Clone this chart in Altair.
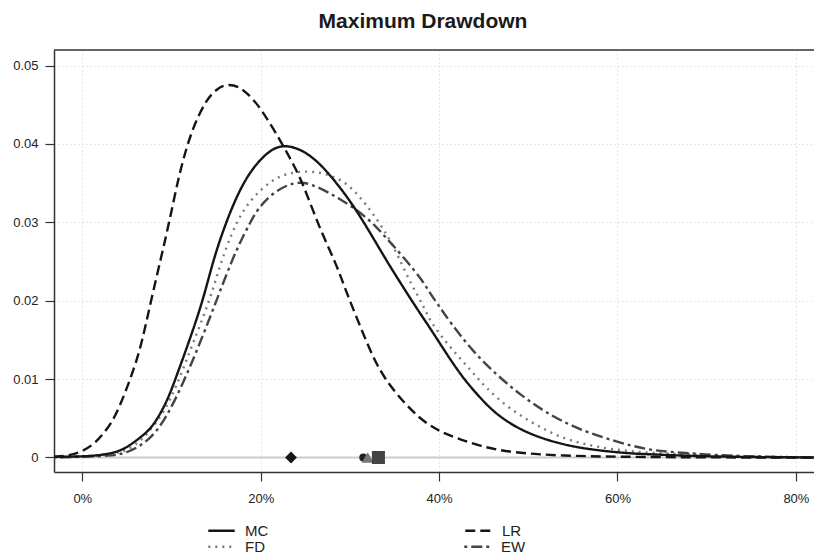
import altair as alt
import pandas as pd

# ---------------- data ----------------
row1_series = ["MC", "LR"]
row1_colors = ["#151515", "#151515"]
row1_dash = [[1, 0], [10, 5]]
row2_series = ["FD", "EW"]
row2_colors = ["#7a7a7a", "#444444"]
row2_dash = [[2, 5], [3, 4, 11, 4]]

mc_x = [-3.2, -1.0, 1.2, 2.5, 3.9, 5.0, 6.1, 7.0, 8.0, 9.5, 10.6, 12.1, 13.6, 14.7, 16.2,
        17.7, 19.2, 21.0, 22.5, 24.4, 26.3, 28.1, 30.0, 31.9, 34.0, 35.6, 37.5, 39.0,
        40.9, 42.7, 44.6, 46.5, 49.4, 53.2, 56.9, 61.4, 64.0, 70.0, 82.0]
mc_y = [0.0001, 0.0001, 0.0002, 0.0004, 0.0007, 0.0013, 0.0022, 0.0030, 0.0041, 0.0071,
        0.0105, 0.0152, 0.0203, 0.0253, 0.0303, 0.0343, 0.0371, 0.0392, 0.0399, 0.0394,
        0.0379, 0.0356, 0.0328, 0.0294, 0.0253, 0.0224, 0.0190, 0.0165, 0.0131, 0.0101,
        0.0076, 0.0054, 0.0033, 0.0018, 0.0010, 0.0005, 0.0004, 0.0001, 0.0]

lr_x = [-3.2, -2.0, -1.0, 0.0, 1.2, 2.2, 3.3, 4.3, 5.35, 6.5, 7.6, 8.9, 9.8, 10.8, 11.7,
        12.6, 13.9, 15.1, 16.4, 17.7, 18.4, 19.6, 21.4, 23.1, 24.6, 26.6, 28.4, 29.6,
        31.1, 32.6, 34.1, 36.0, 37.8, 39.5, 40.9, 44.6, 48.3, 54.0, 60.0, 70.0, 82.0]
lr_y = [0.0001, 0.0002, 0.0004, 0.0008, 0.0016, 0.0028, 0.0044, 0.0068, 0.0099, 0.0137,
        0.0195, 0.0258, 0.0303, 0.0358, 0.0396, 0.0426, 0.0456, 0.0471, 0.0477, 0.0472,
        0.0465, 0.0452, 0.0420, 0.0386, 0.0354, 0.0292, 0.0249, 0.0211, 0.0169, 0.0127,
        0.0097, 0.0071, 0.0050, 0.0037, 0.0029, 0.0014, 0.0006, 0.0002, 0.0001, 0.0, 0.0]

fd_x = [-3.2, 0.0, 2.5, 4.6, 6.0, 7.2, 9.1, 10.6, 12.1, 13.6, 14.7, 15.6, 16.75, 17.8,
        19.2, 21.06, 22.7, 25.2, 27.4, 29.45, 31.1, 32.6, 34.3, 35.4, 36.9, 38.2, 39.0,
        41.2, 43.5, 45.3, 47.9, 50.9, 53.9, 57.3, 60.5, 63.5, 67.8, 72.0, 82.0]
fd_y = [0.0, 0.0001, 0.0003, 0.0007, 0.0016, 0.0029, 0.0056, 0.0092, 0.0137, 0.0180,
        0.0216, 0.0251, 0.0286, 0.0311, 0.0333, 0.0352, 0.0362, 0.0366, 0.0362, 0.0352,
        0.0333, 0.0311, 0.0282, 0.0257, 0.0220, 0.0195, 0.0173, 0.0141, 0.0112, 0.0088,
        0.0062, 0.0041, 0.0024, 0.0014, 0.0009, 0.0006, 0.0004, 0.0002, 0.0]

ew_x = [-3.2, 0.0, 3.0, 5.0, 7.6, 9.5, 11.3, 12.8, 14.3, 15.4, 16.7, 17.7, 18.8, 19.6,
        21.4, 23.85, 25.5, 27.8, 30.0, 32.25, 34.1, 36.2, 38.2, 39.0, 39.9, 41.2, 43.8,
        46.5, 49.1, 52.1, 55.8, 59.9, 63.3, 65.9, 69.6, 75.2, 82.0]
ew_y = [0.0, 0.0001, 0.0002, 0.0005, 0.0022, 0.0052, 0.0095, 0.0135, 0.0178, 0.0211,
        0.0249, 0.0275, 0.0299, 0.0316, 0.0339, 0.0352, 0.0350, 0.0337, 0.0322, 0.0303,
        0.0280, 0.0253, 0.0225, 0.0209, 0.0195, 0.0173, 0.0135, 0.0105, 0.0080, 0.0056,
        0.0035, 0.0020, 0.0010, 0.0007, 0.0004, 0.0001, 0.0]

# markers on the zero line
marker_series = ["LR", "MC", "FD", "EW"]
marker_x = [23.4, 31.5, 32.0, 33.2]
marker_shapes = ["diamond", "circle", "triangle-up", "square"]
marker_colors = ["#151515", "#222222", "#777777", "#444444"]
marker_sizes = [140, 64, 150, 170]

x_ticks = [0, 0.2, 0.4, 0.6, 0.8]
y_ticks = [0, 0.01, 0.02, 0.03, 0.04, 0.05]

# ---------------- tables ----------------
rows = []
for name, xs, ys in [("MC", mc_x, mc_y), ("LR", lr_x, lr_y), ("FD", fd_x, fd_y), ("EW", ew_x, ew_y)]:
    for xv, yv in zip(xs, ys):
        rows.append({"series": name, "x": xv / 100.0, "y": yv})
df = pd.DataFrame(rows)

df_m = pd.DataFrame({"series": marker_series, "x": [v / 100.0 for v in marker_x], "y": [0.0] * 4})
df_zero = pd.DataFrame({"y": [0.0]})

W, H = 760, 422
FONT = "Liberation Sans"

x_scale = alt.Scale(domain=[-0.0317, 0.8203], nice=False, zero=False)
y_scale = alt.Scale(domain=[-0.00185, 0.05198], nice=False, zero=False)

x_axis = alt.Axis(values=x_ticks, format=".0%", title=None, grid=True, gridDash=[1, 3],
                  gridColor="#cfcfcf", gridWidth=1, domainColor="#333333", domainWidth=1.5,
                  tickColor="#333333", tickSize=9, tickWidth=1.2, labelPadding=11.5,
                  labelFontSize=13, labelFont=FONT, labelColor="#222222")
y_axis = alt.Axis(values=y_ticks, format=".2~f", title=None, grid=True, gridDash=[1, 3],
                  gridColor="#cfcfcf", gridWidth=1, domainColor="#333333", domainWidth=1.5,
                  tickColor="#333333", tickSize=9, tickWidth=1.2, labelPadding=7,
                  labelFontSize=13, labelFont=FONT, labelColor="#222222")


def make_legend(legend_y, col_pad):
    return alt.Legend(orient="none", legendX=153, legendY=legend_y, direction="horizontal",
                      columns=2, columnPadding=col_pad, symbolType="stroke", symbolSize=700,
                      symbolStrokeWidth=2.5, labelFontSize=15, labelFont=FONT,
                      labelColor="#222222", labelOffset=9, title=None)


zero_line = alt.Chart(df_zero).mark_rule(color="#cccccc", strokeWidth=2).encode(
    y=alt.Y("y:Q", scale=y_scale, axis=y_axis)
)


def line_layer(names, colors, dashes, legend):
    return alt.Chart(df).transform_filter(
        alt.FieldOneOfPredicate(field="series", oneOf=names)
    ).mark_line(strokeWidth=2.4, interpolate="basis", clip=True).encode(
        x=alt.X("x:Q", scale=x_scale, axis=x_axis),
        y=alt.Y("y:Q", scale=y_scale, axis=y_axis),
        color=alt.Color("series:N", scale=alt.Scale(domain=names, range=colors), legend=legend),
        strokeDash=alt.StrokeDash("series:N", scale=alt.Scale(domain=names, range=dashes), legend=legend),
        detail="series:N",
    )


lines_row2 = line_layer(row2_series, row2_colors, row2_dash, make_legend(482, 194))
lines_row1 = line_layer(row1_series, row1_colors, row1_dash, make_legend(466, 191))

point_layers = []
for s, shp, col, sz in zip(marker_series, marker_shapes, marker_colors, marker_sizes):
    point_layers.append(
        alt.Chart(df_m).transform_filter(alt.datum.series == s)
        .mark_point(shape=shp, size=sz, filled=True, fill=col, color=col, opacity=1, strokeWidth=0)
        .encode(
            x=alt.X("x:Q", scale=x_scale, axis=x_axis),
            y=alt.Y("y:Q", scale=y_scale, axis=y_axis),
        )
    )

top_border = alt.Chart(df_zero).mark_rule(color="#333333", strokeWidth=1.5).encode(
    x=alt.value(0), x2=alt.value(W), y=alt.value(0)
)

chart = alt.layer(zero_line, lines_row2, lines_row1, *point_layers, top_border).resolve_scale(
    color="independent", strokeDash="independent"
).resolve_legend(
    color="independent", strokeDash="independent"
).properties(
    width=W, height=H,
    title=alt.TitleParams("Maximum Drawdown", fontSize=21, fontWeight="bold", font=FONT,
                          anchor="middle", offset=17, dx=-11, color="#1a1a1a"),
    autosize=alt.AutoSizeParams(type="none"),
    padding={"left": 46, "top": 42, "right": 0, "bottom": 85},
).configure_view(stroke="transparent")

chart.save("out.html", embed_options={"renderer": "svg", "actions": False})
